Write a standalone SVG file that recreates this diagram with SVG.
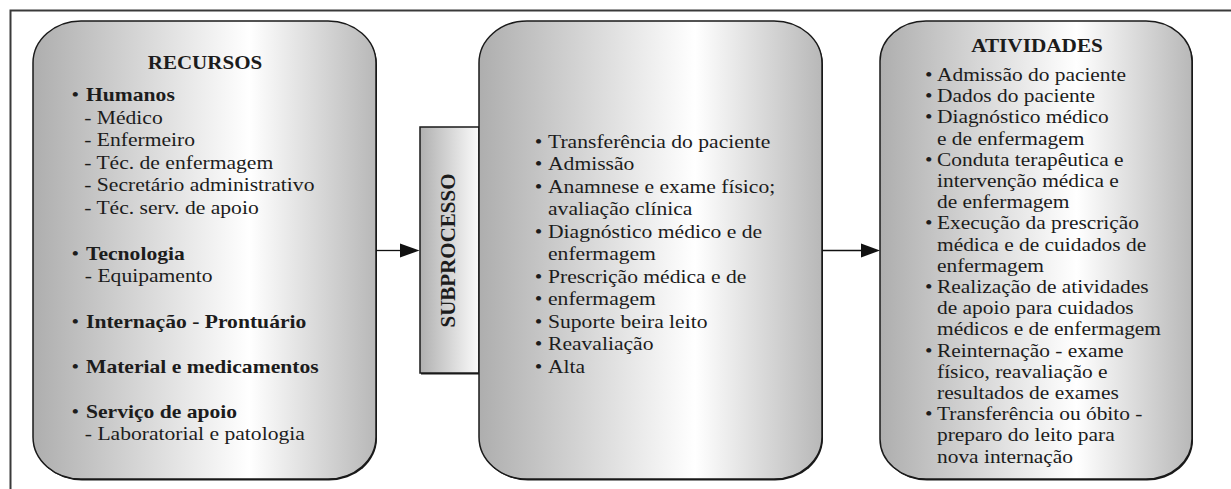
<svg xmlns="http://www.w3.org/2000/svg" width="1231" height="489" viewBox="0 0 1231 489">
<style>
.t{font-family:"Liberation Serif","Times New Roman",serif;font-size:18px;fill:#1c1c1c}
.b{font-weight:bold}
.bx{stroke:#1a1a1a;stroke-width:1.5}
.sh{fill:#1a1a1a}
.con{stroke:#111;stroke-width:1.3;fill:none}
.ah{fill:#111}
</style>
<defs>
<linearGradient id="g" x1="0" y1="0" x2="1" y2="0">
<stop offset="0" stop-color="#aeaeae"/>
<stop offset="0.63" stop-color="#ffffff"/>
<stop offset="1" stop-color="#b8b8b8"/>
</linearGradient>
<linearGradient id="g2" x1="0" y1="0" x2="1" y2="0">
<stop offset="0" stop-color="#b0b0b0"/>
<stop offset="1" stop-color="#fbfbfb"/>
</linearGradient>
</defs>
<rect width="1231" height="489" fill="#fff"/>
<path d="M10.5,489 V10.5 H1231" fill="none" stroke="#3a3a3a" stroke-width="2"/>

<g id="recursos">
<rect class="sh" x="34" y="22.5" width="343" height="458" rx="48" ry="42"/>
<rect class="bx" x="33" y="21" width="343" height="458" rx="48" ry="42" fill="url(#g)"/>
<g class="t" transform="translate(205 0) scale(1.17 1)">
<text class="b" x="0" y="69" text-anchor="middle">RECURSOS</text>
</g>
<g class="t" transform="translate(86 0) scale(1.2 1)">
<text x="-12" y="101">•</text><text class="b" x="0" y="101">Humanos</text>
<text x="-1.5" y="124">- Médico</text>
<text x="-1.5" y="146.5">- Enfermeiro</text>
<text x="-1.5" y="169">- Téc. de enfermagem</text>
<text x="-1.5" y="191.5">- Secretário administrativo</text>
<text x="-1.5" y="214">- Téc. serv. de apoio</text>
<text x="-12" y="260">•</text><text class="b" x="0" y="260">Tecnologia</text>
<text x="-1" y="282">- Equipamento</text>
<text x="-12" y="328">•</text><text class="b" x="0" y="328">Internação - Prontuário</text>
<text x="-12" y="373">•</text><text class="b" x="0" y="373">Material e medicamentos</text>
<text x="-12" y="418">•</text><text class="b" x="0" y="418">Serviço de apoio</text>
<text x="-1" y="440">- Laboratorial e patologia</text>
</g>
</g>

<g id="subprocesso">
<rect class="sh" x="421" y="128.5" width="59" height="246"/>
<rect class="bx" x="420" y="127" width="59" height="246" fill="url(#g2)"/>
<text class="t b" transform="translate(455 250.5) rotate(-90)" x="0" y="0" text-anchor="middle" style="font-size:21px">SUBPROCESSO</text>
</g>

<g id="subprocesso-itens">
<rect class="sh" x="480" y="22.5" width="343" height="458" rx="48" ry="42"/>
<rect class="bx" x="479" y="21" width="343" height="458" rx="48" ry="42" fill="url(#g)"/>
<g class="t" transform="translate(548 0) scale(1.2 1)">
<text x="-11" y="148">•</text><text x="0" y="148">Transferência do paciente</text>
<text x="-11" y="170.5">•</text><text x="0" y="170.5">Admissão</text>
<text x="-11" y="193">•</text><text x="0" y="193">Anamnese e exame físico;</text>
<text x="0" y="215.5">avaliação clínica</text>
<text x="-11" y="238">•</text><text x="0" y="238">Diagnóstico médico e de</text>
<text x="0" y="260.5">enfermagem</text>
<text x="-11" y="283">•</text><text x="0" y="283">Prescrição médica e de</text>
<text x="-11" y="305.5">•</text><text x="0" y="305.5">enfermagem</text>
<text x="-11" y="328">•</text><text x="0" y="328">Suporte beira leito</text>
<text x="-11" y="350.5">•</text><text x="0" y="350.5">Reavaliação</text>
<text x="-11" y="373">•</text><text x="0" y="373">Alta</text>
</g>
</g>

<g id="atividades">
<rect class="sh" x="881" y="22.5" width="312" height="458" rx="46" ry="40"/>
<rect class="bx" x="880" y="21" width="312" height="458" rx="46" ry="40" fill="url(#g)"/>
<g class="t" transform="translate(1037 0) scale(1.18 1)">
<text class="b" x="0" y="52" text-anchor="middle">ATIVIDADES</text>
</g>
<g class="t" transform="translate(937 0) scale(1.19 1)">
<text x="-10" y="81">•</text><text x="0" y="81">Admissão do paciente</text>
<text x="-10" y="102.2">•</text><text x="0" y="102.2">Dados do paciente</text>
<text x="-10" y="123.4">•</text><text x="0" y="123.4">Diagnóstico médico</text>
<text x="0" y="144.6">e de enfermagem</text>
<text x="-10" y="165.8">•</text><text x="0" y="165.8">Conduta terapêutica e</text>
<text x="0" y="187">intervenção médica e</text>
<text x="0" y="208.2">de enfermagem</text>
<text x="-10" y="229.4">•</text><text x="0" y="229.4">Execução da prescrição</text>
<text x="0" y="250.6">médica e de cuidados de</text>
<text x="0" y="271.8">enfermagem</text>
<text x="-10" y="293">•</text><text x="0" y="293">Realização de atividades</text>
<text x="0" y="314.2">de apoio para cuidados</text>
<text x="0" y="335.4">médicos e de enfermagem</text>
<text x="-10" y="356.6">•</text><text x="0" y="356.6">Reinternação - exame</text>
<text x="0" y="377.8">físico, reavaliação e</text>
<text x="0" y="399">resultados de exames</text>
<text x="-10" y="420.2">•</text><text x="0" y="420.2">Transferência ou óbito -</text>
<text x="0" y="441.4">preparo do leito para</text>
<text x="0" y="462.6">nova internação</text>
</g>
</g>

<g id="connectors">
<line class="con" x1="376" y1="250.5" x2="401" y2="250.5"/>
<polygon class="ah" points="400,243.5 419.5,250.5 400,257.5"/>
<line class="con" x1="822" y1="250.5" x2="862" y2="250.5"/>
<polygon class="ah" points="861,243.5 880,250.5 861,257.5"/>
</g>
</svg>
